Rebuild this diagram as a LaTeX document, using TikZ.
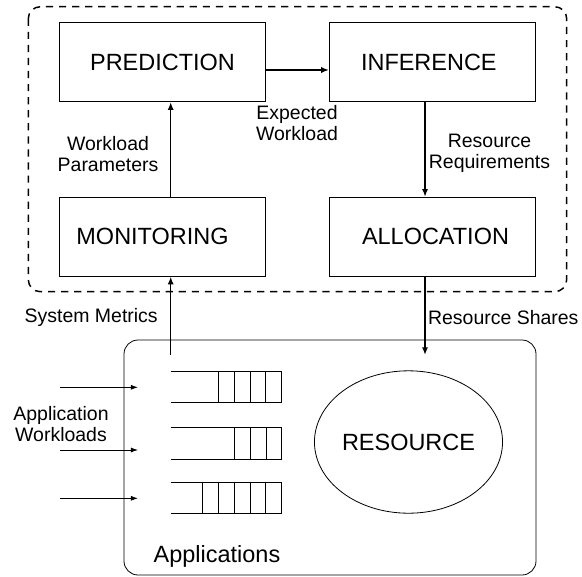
\documentclass[tikz,border=0pt]{standalone}
\usepackage{fontspec}
\setmainfont{Liberation Sans}
\usetikzlibrary{arrows.meta,calc,shapes.geometric}

\begin{document}
\begin{tikzpicture}[
  x=0.75pt, y=-0.75pt,
  stagebox/.style={draw, line width=0.6pt, inner sep=0pt,
    minimum width=154.8pt, minimum height=59.3pt,
    font=\fontsize{17.6}{20}\selectfont},
  lbl/.style={inner sep=0pt, align=center,
    font=\fontsize{14.6}{15.8}\selectfont},
  big/.style={inner sep=0pt, font=\fontsize{17.6}{20}\selectfont},
  arr/.style={line width=1.1pt, -{Latex[length=5.8pt,width=4.6pt]}},
  thin/.style={line width=0.6pt}
]
% canvas
\useasboundingbox (0,0) rectangle (582,576);

% controller boundary
\draw[line width=1.1pt, dash pattern=on 5.4pt off 4.4pt, rounded corners=9pt]
  (28.3,6.7) rectangle (566.7,291.7);

% control-loop stages
\node[stagebox] (pred)  at (162.5,62.2)  {PREDICTION};
\node[stagebox] (inf)   at (432.5,62.2)  {\hspace*{-5.5pt}INFERENCE};
\node[stagebox] (mon)   at (162.5,236.7) {\hspace*{-15pt}MONITORING};
\node[stagebox] (alloc) at (432.5,236.7) {\hspace*{4.5pt}ALLOCATION};

% applications and the shared resource
\draw[thin, rounded corners=10.5pt] (124,340) rectangle (536,575);
\node[draw, thin, ellipse, minimum width=118.8pt, minimum height=106.8pt,
      inner sep=0pt, font=\fontsize{17.6}{20}\selectfont] (res) at (408.5,442) {RESOURCE};
\node[big] (apps) at (217,556.7) {Applications};

% request queues: open on the left, filled slots on the right
\draw[thin] (170.7,371.7) -- (281.7,371.7) -- (281.7,402.7) -- (170.7,402.7);
\foreach \cx in {218.3,234,250,265.7} \draw[thin] (\cx,371.7) -- (\cx,402.7);
\draw[thin] (170.7,427.7) -- (281.7,427.7) -- (281.7,459.3) -- (170.7,459.3);
\foreach \cx in {234.3,250,266.3} \draw[thin] (\cx,427.7) -- (\cx,459.3);
\draw[thin] (170.7,482.3) -- (281.7,482.3) -- (281.7,513.7) -- (170.7,513.7);
\foreach \cx in {202.3,218,234,250,265.7} \draw[thin] (\cx,482.3) -- (\cx,513.7);

% incoming workloads
\coordinate (w1s) at (60,387.3);  \coordinate (w1e) at (138,387.3);
\coordinate (w2s) at (60,450);    \coordinate (w2e) at (138,450);
\coordinate (w3s) at (60,498.3);  \coordinate (w3e) at (138,498.3);
\draw[thin, -{Latex[length=5.4pt,width=3.8pt]}] (w1s) -- (w1e);
\draw[thin, -{Latex[length=5.4pt,width=3.8pt]}] (w2s) -- (w2e);
\draw[thin, -{Latex[length=5.4pt,width=3.8pt]}] (w3s) -- (w3e);
\node[lbl] (wl) at (61,424) {Application\\Workloads};

% control loop connectors
\draw[arr] ([yshift=-5.85pt]pred.east) -- ([yshift=-5.85pt]inf.west);
\draw[arr] ([xshift=6.15pt]mon.north) -- ([xshift=6.15pt]pred.south);
\draw[arr] ([xshift=-5.6pt]inf.south) -- ([xshift=-5.6pt]alloc.north);

\coordinate (smtail) at (170.7,355);
\coordinate (rstip)  at (425,355);
\draw[arr] (smtail) -- (smtail |- mon.south);
\draw[arr] (rstip |- alloc.south) -- (rstip);

% connector labels
\node[lbl] (ew) at (297,122.8) {Expected\\Workload};
\node[lbl] (wp) at (108,154.2) {Workload\\Parameters};
\node[lbl] (rr) at (489.5,153)  {Resource\\Requirements};
\node[lbl] (sm) at (91.2,317.3) {System Metrics};
\node[lbl] (rs) at (503.3,317.3) {Resource Shares};
\end{tikzpicture}
\end{document}
